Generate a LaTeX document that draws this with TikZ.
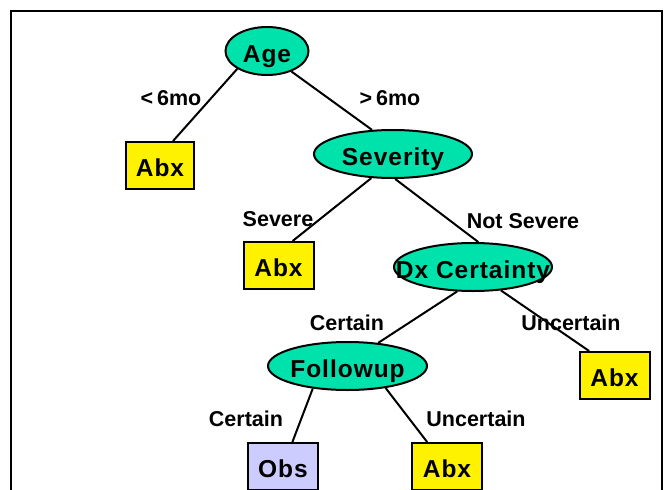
\documentclass[tikz,border=0pt]{standalone}
\usepackage{fontspec}
\setmainfont{Liberation Sans}
\newfontfamily\nodefont[LetterSpace=4]{Liberation Sans}
\usetikzlibrary{shapes.geometric}
\definecolor{teal}{RGB}{0,226,172}
\definecolor{lav}{RGB}{204,204,255}
\tikzset{
  x=1pt, y=-1pt,
  dec/.style={ellipse, draw=black, line width=2pt, fill=teal, inner sep=0pt,
    minimum width=158pt, minimum height=48pt, text height=22pt, text depth=0pt,
    font=\nodefont\bfseries\fontsize{24.5}{26}\selectfont},
  leaf/.style={rectangle, draw=black, line width=2pt, fill=yellow, inner sep=0pt,
    minimum width=70pt, minimum height=47pt, text height=21pt, text depth=0pt,
    font=\nodefont\bfseries\fontsize{24.5}{26}\selectfont},
  lab/.style={inner sep=0pt, font=\bfseries\fontsize{21.5}{23}\selectfont},
  edge/.style={line width=2pt, draw=black}
}
\begin{document}
\begin{tikzpicture}
\useasboundingbox (0,0) rectangle (667,490);
\draw[line width=2.5pt] (11,495) -- (11,11) -- (662,11) -- (662,495);

\node[dec, minimum width=83pt] (age) at (267,51) {\makebox[0pt]{Age}};
\node[leaf, minimum width=68pt] (abx1) at (160,165.5) {\makebox[0pt]{Abx}};
\node[dec] (sev) at (393,154) {\makebox[0pt]{Severity}};
\node[leaf] (abx2) at (278.5,265.5) {\makebox[0pt]{Abx}};
\node[dec] (dx) at (473,267) {\makebox[0pt]{Dx Certainty}};
\node[dec, minimum width=159pt] (fol) at (347.5,366) {\makebox[0pt]{Followup}};
\node[leaf] (abx3) at (614.5,375.5) {\makebox[0pt]{Abx}};
\node[leaf, fill=lav] (obs) at (283,466.5) {\makebox[0pt]{Obs}};
\node[leaf] (abx4) at (447,466.5) {\makebox[0pt]{Abx}};

\draw[edge] (age.211) -- (abx1.62);
\draw[edge] (age.-40) -- (sev.131);
\draw[edge] (sev.228) -- (abx2.60);
\draw[edge] (sev.-85) -- (dx.78);
\draw[edge] (dx.237) -- (fol.37);
\draw[edge] (dx.-40) -- (abx3.136);
\draw[edge] (fol.213) -- (obs.69);
\draw[edge] (fol.-30) -- (abx4.129);

\node[lab] (l1) at (171,98) {<\kern4pt 6mo};
\node[lab] (l2) at (390,98) {>\kern4pt 6mo};
\node[lab] (l3) at (278,219) {Severe};
\node[lab] (l4) at (523,221) {Not Severe};
\node[lab] (l5) at (347,323) {Certain};
\node[lab] (l6) at (571,323) {Uncertain};
\node[lab] (l7) at (246,419) {Certain};
\node[lab] (l8) at (476,419) {Uncertain};
\end{tikzpicture}
\end{document}
